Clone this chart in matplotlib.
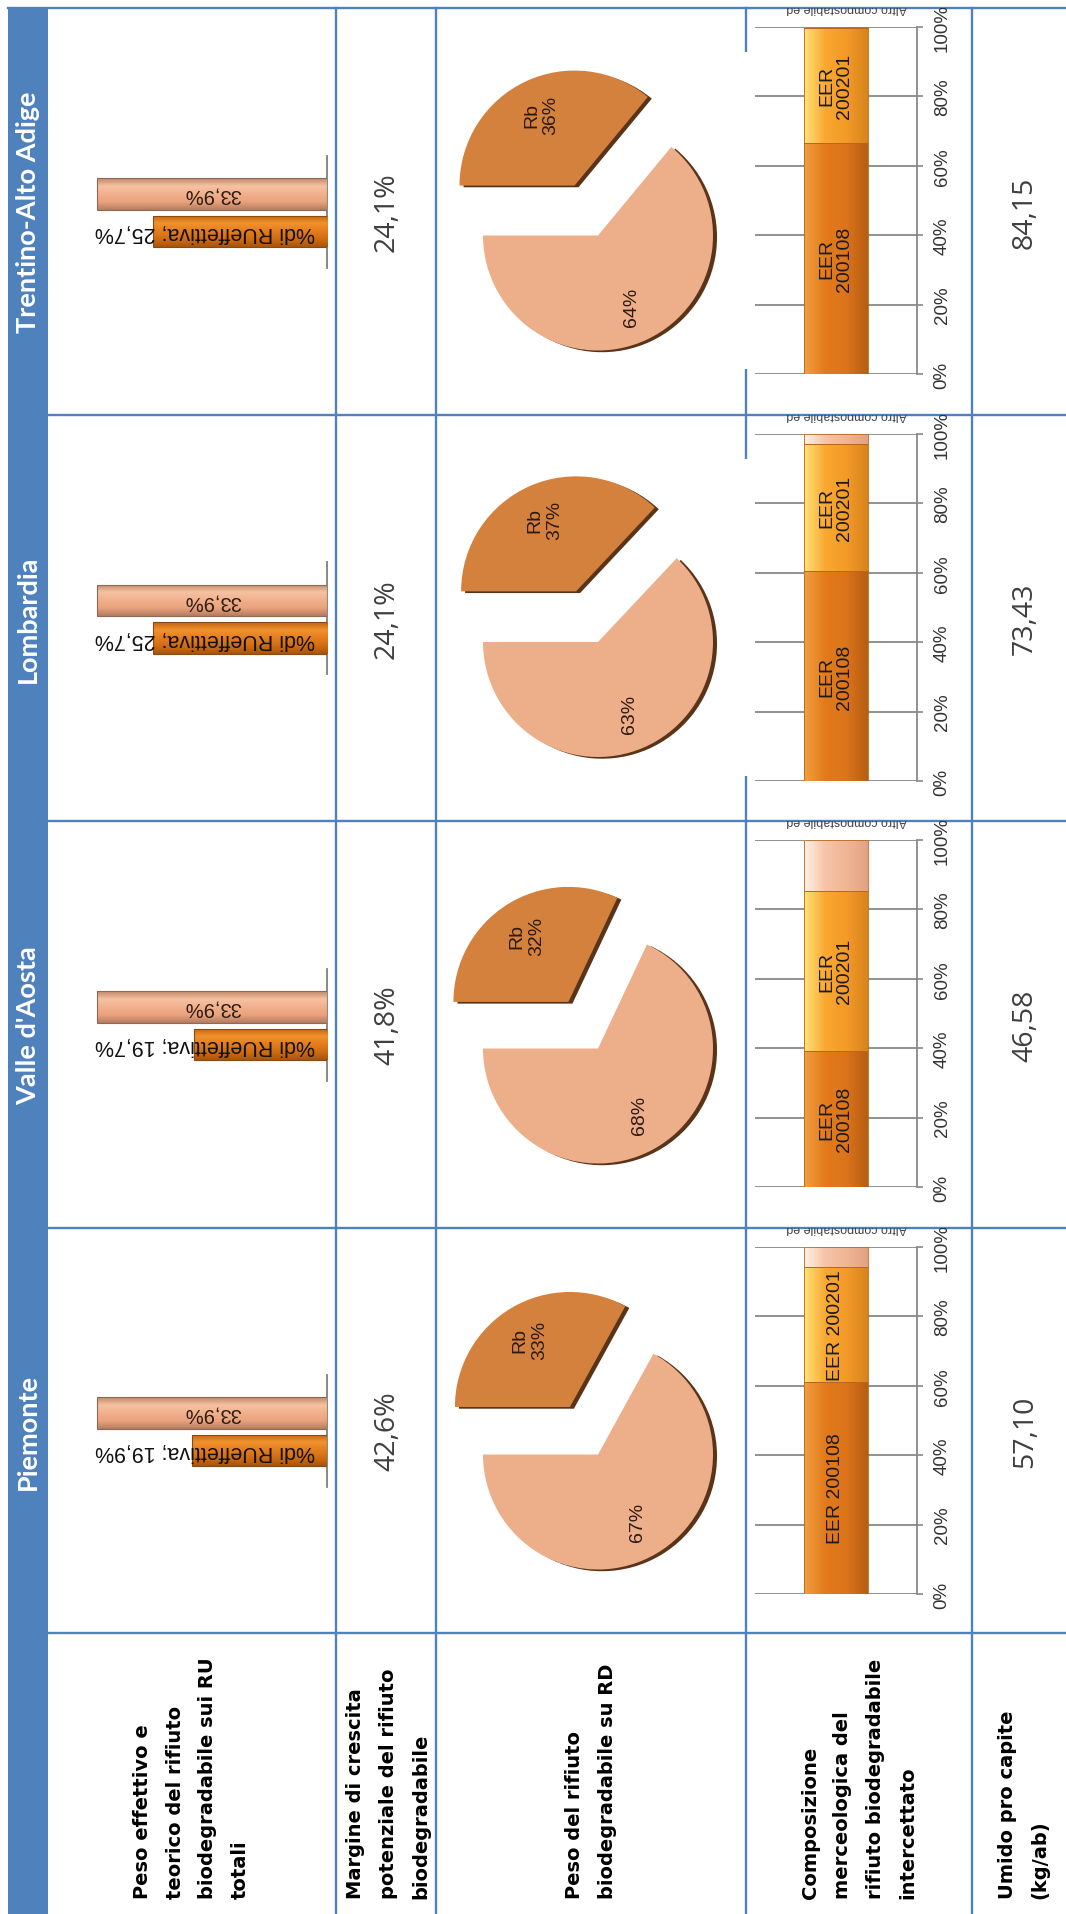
# tabella regioni - rifiuto biodegradabile (tabella ruotata di 90 gradi)
import numpy as np
import matplotlib
matplotlib.use('Agg')
import matplotlib.pyplot as plt
from matplotlib.patches import Rectangle
from matplotlib.colors import LinearSegmentedColormap
from matplotlib.transforms import Bbox, TransformedBbox

# dati (ordine: Piemonte, Valle d'Aosta, Lombardia, Trentino-Alto Adige)
regioni = ["Piemonte", "Valle d'Aosta", "Lombardia", "Trentino-Alto Adige"]
rb_teorico = [33.9, 33.9, 33.9, 33.9]
rb_effettivo = [19.9, 19.7, 25.7, 25.7]
margine = [42.6, 41.8, 24.1, 24.1]
rb_su_rd = [33, 32, 37, 36]
altro_rd = [67, 68, 63, 64]
eer_200108 = [61.1, 39.3, 60.5, 66.7]
eer_200201 = [33.1, 46.0, 36.7, 33.0]
altro_comp = [5.8, 14.7, 2.8, 0.3]
umido = [57.10, 46.58, 73.43, 84.15]
eer_labels = [["EER 200108", "EER 200201"],
              ["EER\n200108", "EER\n200201"],
              ["EER\n200108", "EER\n200201"],
              ["EER\n200108", "EER\n200201"]]
pct_ticks = [0, 20, 40, 60, 80, 100]

intestazioni = [["Peso effettivo e", "teorico del rifiuto", "biodegradabile sui RU", "totali"],
                ["Margine di crescita", "potenziale del rifiuto", "biodegradabile"],
                ["Peso del rifiuto", "biodegradabile su RD"],
                ["Composizione", "merceologica del", "rifiuto biodegradabile", "intercettato"],
                ["Umido pro capite", "(kg/ab)"]]

W, H = 1066, 1915
BLUE = '#4F81BD'
tops = [9, 416, 822, 1229, 1634, H]       # righe dall'alto: Trentino, Lombardia, Valle, Piemonte, etichette
col_x = [8, 47.6, 336, 436, 746, 972, W]
# nelle ultime due regioni l'immagine del grafico copre il bordo sinistro della cella
copre_bordo = [False, False, True, True]


def it(v, nd=1):
    return f"{v:.{nd}f}".replace('.', ',')


def px_axes(x0, y0, x1, y1):
    return fig.add_axes([x0 / W, 1 - y1 / H, (x1 - x0) / W, (y1 - y0) / H])


def shade(ax, patch, stops, along):
    # riempimento sfumato tipo "3D" dentro la barra
    cmap = LinearSegmentedColormap.from_list('g', stops)
    g = np.linspace(0, 1, 128)
    img = g[None, :] if along == 'x' else g[:, None]
    x, y, w, h = patch.get_x(), patch.get_y(), patch.get_width(), patch.get_height()
    im = ax.imshow(img, cmap=cmap, extent=(x, x + w, y, y + h), aspect='auto',
                   origin='lower', interpolation='bilinear', zorder=3)
    im.set_clip_path(patch)
    patch.set_facecolor('none')
    patch.set_zorder(4)


fig = plt.figure(figsize=(W / 100, H / 100), dpi=100)
tab = fig.add_axes([0, 0, 1, 1])
tab.set_xlim(0, W)
tab.set_ylim(H, 0)
tab.axis('off')

# griglia della tabella
tab.add_patch(Rectangle((8, 8), 39.6, H, color=BLUE, lw=0))
tab.plot([8, W], [tops[0], tops[0]], color=BLUE, lw=1.7)
for y in tops[1:5]:
    tab.plot([47.6, W], [y, y], color=BLUE, lw=1.7)
for x in col_x[2:6]:
    tab.plot([x, x], [tops[0], H], color=BLUE, lw=1.7)

# intestazioni colonna in basso
label_centers = [191.5, 388, 591, 859, 1024]
for lines, xc in zip(intestazioni, label_centers):
    n = len(lines)
    for k, line in enumerate(lines):
        tab.text(xc + (k - (n - 1) / 2) * 32.5, 1899, line, rotation=90, rotation_mode='anchor',
                 ha='left', va='center', fontsize=14, fontweight='bold', family='DejaVu Sans',
                 color='black')

for i, reg in enumerate(regioni):
    r = 3 - i
    rt, rb = tops[r], tops[r + 1]
    yc = (rt + rb) / 2

    tab.text(28, yc, reg, rotation=90, ha='center', va='center', color='white',
             fontsize=19.5, fontweight='bold', family='Lato')
    tab.text(387, yc, it(margine[i]) + '%', rotation=90, ha='center', va='center',
             fontsize=20.5, color='#3F3F3F', family='Open Sans')
    tab.text(1025, yc, it(umido[i], 2), rotation=90, ha='center', va='center',
             fontsize=20.5, color='#3F3F3F', family='Open Sans')

    # peso effettivo e teorico (barre)
    ax = px_axes(90, yc - 56, 327, yc + 56)
    bars = ax.barh([0, 1], [rb_teorico[i], rb_effettivo[i]], height=0.84,
                   edgecolor=['#8C6A58', '#8A4A12'], lw=0.8)
    shade(ax, bars[0], ['#C08868', '#F6C2A2', '#F2B08C', '#E9A27E', '#B57C5E'], 'y')
    shade(ax, bars[1], ['#C4620F', '#F0922E', '#E57D1C', '#D06C12', '#A8540C'], 'y')
    ax.set_xlim(35, 0)
    ax.set_ylim(1.96, -1.03)
    ax.set_xticks([])
    ax.set_yticks([])
    for s in ['top', 'bottom', 'left']:
        ax.spines[s].set_visible(False)
    ax.spines['right'].set_color('#7F7F7F')
    ax.spines['right'].set_linewidth(1.3)
    ax.patch.set_alpha(0)
    ax.text(rb_teorico[i] / 2, 0, it(rb_teorico[i]) + '%', rotation=180, ha='center', va='center',
            fontsize=14.5, family='Liberation Sans', color='#2B1D12', zorder=6)
    ax.text(1.8, 1, '%di RUeffettiva; ' + it(rb_effettivo[i]) + '%', rotation=180,
            rotation_mode='anchor', ha='left', va='center', fontsize=15.5,
            family='Liberation Sans', color='#111111', zorder=6)

    # peso del rifiuto biodegradabile su RD (torta)
    cx, cy = 598, yc + 24
    ax = px_axes(cx - 184, cy - 184, cx + 184, cy + 184)
    vals = [rb_su_rd[i], altro_rd[i]]
    ax.pie(vals, startangle=180, counterclock=False, explode=[0.48, 0],
           colors=['#5A3418', '#5A3418'], center=(0.035, -0.015))
    wed, _, auto = ax.pie(vals, startangle=180, counterclock=False, explode=[0.48, 0],
                          colors=['#D4813E', '#EDAE8A'], autopct='%.0f%%', pctdistance=0.68,
                          textprops=dict(fontsize=14, family='Liberation Sans', color='#2A1A10'))
    auto[0].set_text('Rb\n' + auto[0].get_text())
    for a in auto:
        a.set_rotation(90)
    ax.set_xlim(-1.6, 1.6)
    ax.set_ylim(-1.6, 1.6)

    # composizione merceologica (barra in pila 100%)
    if copre_bordo[i]:
        tab.add_patch(Rectangle((743, rt + 44), 8, 317, color='white', lw=0, zorder=5))
    clip = TransformedBbox(Bbox.from_extents(746, rb, 972, rt), tab.transData)
    ax = px_axes(755, rt + 19, 917, rt + 366)
    segs = [(eer_200108[i], ['#F2A040', '#E27A1C', '#DC741A', '#B55E12']),
            (eer_200201[i], ['#FFE27A', '#F9A830', '#F39A28', '#D8841C']),
            (altro_comp[i], ['#FFF2E6', '#F6C4A8', '#F0B594', '#E2A283'])]
    base = 0
    for k, (v, stops) in enumerate(segs):
        b = ax.bar(0, v, bottom=base, width=0.78, edgecolor='#B8661C', lw=0.6)
        shade(ax, b[0], stops, 'x')
        if k < 2:
            ax.text(0, base + v / 2, eer_labels[i][k], rotation=90, ha='center', va='center',
                    fontsize=14, family='Liberation Sans', color='#1A1A1A', zorder=6, linespacing=1.05)
        base += v
    ax.set_xlim(-1, 1)
    ax.set_ylim(0, 100)
    ax.yaxis.tick_right()
    ax.set_yticks(pct_ticks)
    ax.set_yticklabels([f'{t}%' for t in pct_ticks], rotation=90, va='center', ha='left',
                       fontsize=13.5, family='Liberation Sans', color='#333333')
    ax.tick_params(axis='y', length=4, width=1.2, color='#888888', pad=8)
    ax.set_xticks([])
    ax.grid(axis='y', color='#888888', lw=1.3)
    ax.set_axisbelow(True)
    for s in ['top', 'bottom', 'left']:
        ax.spines[s].set_visible(False)
    ax.spines['right'].set_color('#888888')
    ax.spines['right'].set_linewidth(1.3)
    ax.patch.set_alpha(0)
    for lab in ax.get_yticklabels():
        lab.set_clip_box(clip)
        lab.set_clip_on(True)
    t = tab.text(847, rt - 1, 'Altro compostabile ed', rotation=180, ha='center', va='center',
                 fontsize=9, family='Liberation Sans', color='#444444')
    t.set_clip_box(clip)
    t.set_clip_on(True)

fig.savefig('out.png', dpi=100)
